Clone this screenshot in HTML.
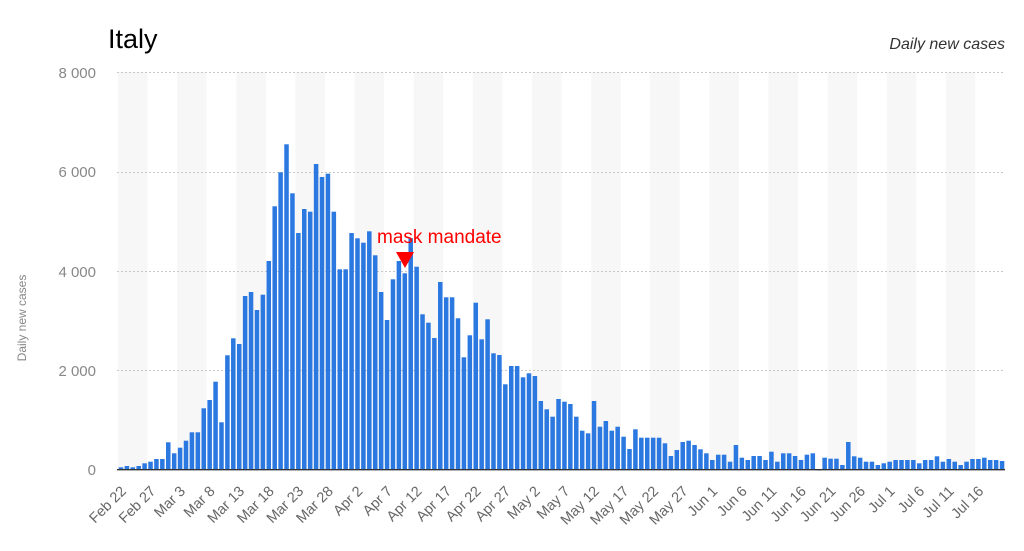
<!DOCTYPE html>
<html><head><meta charset="utf-8">
<style>
html,body{margin:0;padding:0;background:#fff;}
svg{display:block;}
text{font-family:"Liberation Sans",sans-serif;}
</style></head>
<body>
<svg id="c" width="1024" height="551" viewBox="0 0 1024 551" xmlns="http://www.w3.org/2000/svg">
<g id="bands"></g>
<g stroke="#c8c8c8" stroke-dasharray="2,2" stroke-width="1">
<line x1="117" y1="72.5" x2="1005" y2="72.5"/>
<line x1="117" y1="172.5" x2="1005" y2="172.5"/>
<line x1="117" y1="271.5" x2="1005" y2="271.5"/>
<line x1="117" y1="370.5" x2="1005" y2="370.5"/>
</g>
<g fill="#888" font-size="15" text-anchor="end">
<text x="96" y="78">8 000</text>
<text x="96" y="177">6 000</text>
<text x="96" y="277">4 000</text>
<text x="96" y="376">2 000</text>
<text x="96" y="475">0</text>
</g>
<text x="26" y="318" fill="#888" font-size="12" text-anchor="middle" transform="rotate(-90 26 318)">Daily new cases</text>
<text x="108" y="48" font-size="27" fill="#000">Italy</text>
<text x="1005" y="49" font-size="16" font-style="italic" fill="#333" text-anchor="end">Daily new cases</text>
<g id="bars" fill="#2a78e0"></g>
<line x1="117" y1="469.7" x2="1005" y2="469.7" stroke="#333" stroke-width="1.4"/>
<g id="labels" fill="#666" font-size="14.5"></g>
<text x="377" y="243" font-size="19" fill="#ff0000">mask mandate</text>
<polygon points="396,252 414,252 405,268" fill="#ff0000"/>
</svg>
<script>
var h=[2.2,3.5,2.2,3.5,6.2,7.8,10.5,10.5,27.2,16.2,21.8,28.8,37.2,37.2,61.2,69.5,87.8,47.2,114.2,131.2,125.5,173.5,177.5,159.5,174.8,208.5,263.2,297.2,325.2,276.2,236.5,260.5,257.8,305.5,292.5,295.8,257.8,200.2,200.2,236.5,231.2,226.8,238.2,214.2,177.5,149.5,
190.2,208.5,196.2,231.2,202.8,155.2,146.8,131.5,187.5,172.2,172.2,151.2,112.2,134.2,166.8,130.2,150.2,116.2,114.5,85.2,103.5,103.5,92.2,96.2,93.5,68.5,60.2,52.8,70.5,67.8,65.5,52.8,38.8,36.2,68.5,42.8,48.5,38.8,42.8,32.8,20.5,40.2,31.8,31.8,31.8,31.8,26.2,13.5,19.5,
27.5,28.8,24.5,20.2,16.2,9.5,14.8,14.8,7.8,24.5,11.8,9.5,13.5,13.5,9.5,17.8,7.8,16.2,16.2,13.5,9.5,14.8,16.2,-1,11.8,10.8,10.8,4.5,27.5,13.2,11.8,7.8,7.8,4.5,6.2,7.8,9.5,9.5,9.5,9.5,6.2,9.5,9.5,13.2,7.8,10.5,7.8,4.5,7.8,10.5,10.5,11.8,9.5,9.5,8.5];
var ns="http://www.w3.org/2000/svg";
var N=150,x0=118,w=(1005-118)/N,base=469.5;
var B=document.getElementById('bars'),L=document.getElementById('labels'),G=document.getElementById('bands');
for(var b=0;b<N;b+=10){var r=document.createElementNS(ns,'rect');r.setAttribute('x',x0+b*w);r.setAttribute('y',72);r.setAttribute('width',5*w);r.setAttribute('height',398);r.setAttribute('fill','#f7f7f7');G.appendChild(r);}
for(var i=0;i<N&&i<h.length;i++){var v=h[i];var r=document.createElementNS(ns,'rect');
 r.setAttribute('x',(x0+i*w+0.7).toFixed(2));r.setAttribute('width',(w-1.4).toFixed(2));
 if(v>=0){r.setAttribute('y',(base-v).toFixed(2));r.setAttribute('height',v.toFixed(2));}else{r.setAttribute('y',base);r.setAttribute('height',-v);}
 B.appendChild(r);}
var labs=["Feb 22","Feb 27","Mar 3","Mar 8","Mar 13","Mar 18","Mar 23","Mar 28","Apr 2","Apr 7","Apr 12","Apr 17","Apr 22","Apr 27","May 2","May 7","May 12","May 17","May 22","May 27","Jun 1","Jun 6","Jun 11","Jun 16","Jun 21","Jun 26","Jul 1","Jul 6","Jul 11","Jul 16"];
for(var k=0;k<labs.length;k++){var cx=x0+(k*5+0.5)*w+6,cy=492;var t=document.createElementNS(ns,'text');
 t.setAttribute('x',cx);t.setAttribute('y',cy);t.setAttribute('text-anchor','end');
 t.setAttribute('transform','rotate(-45 '+cx+' '+cy+')');t.textContent=labs[k];L.appendChild(t);}
</script>
</body></html>
